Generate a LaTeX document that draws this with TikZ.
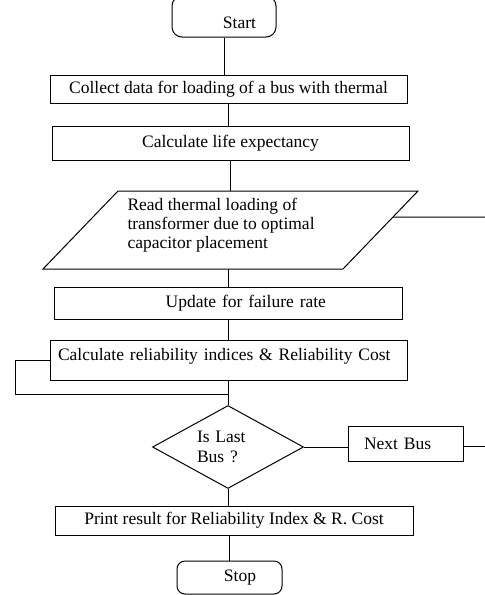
\documentclass[tikz,border=0pt]{standalone}
\usepackage{fontspec}
\setmainfont{Liberation Serif}
\usetikzlibrary{shapes.geometric,positioning,calc}

\begin{document}
\begin{tikzpicture}[x=1pt, y=-1pt, line width=1pt,
  txt/.style={inner sep=0pt, font=\fontsize{17.5}{19}\selectfont},
  box/.style={txt, draw, rectangle},
  term/.style={box, rounded corners=8pt},
  decide/.style={txt, draw, diamond, aspect=1.82, align=left, font=\fontsize{17.5}{20}\selectfont}
]
\useasboundingbox (0,0) rectangle (485,595);

\node[term, rounded corners=10pt, minimum width=104pt, minimum height=41pt, text height=32pt, text depth=9pt,
      text width=64pt, inner xsep=20pt, align=right] (start) at (224,16.5) {Start};
\node[box, minimum width=357pt, minimum height=28pt] (collect) at (228.5,89) {Collect data for loading of a bus with thermal};
\node[box, minimum width=357pt, minimum height=34pt] (life) at (230.5,143) {Calculate life expectancy};

% input / output block
\coordinate (rtl) at (118,191);
\coordinate (rtr) at (418,191);
\coordinate (rbr) at (343,269);
\coordinate (rbl) at (43,269);
\draw (rtl) -- (rtr) -- (rbr) -- (rbl) -- cycle;
\node[txt, align=left, anchor=west] (read) at (127,225) {Read thermal loading of\\transformer due to optimal\\capacitor placement};

\node[box, minimum width=348pt, minimum height=32pt, text width=196pt, inner xsep=76pt, align=right] (update) at (228,303) {Update for failure rate};
\node[box, minimum width=357pt, text width=341pt, inner xsep=8pt, align=left,
      text height=20pt, text depth=20pt] (rel) at (228.5,360) {Calculate reliability indices \& Reliability Cost};
\node[decide, minimum width=151pt, minimum height=83pt, text width=62pt] (last) at (228,447) {Is Last\\Bus ?};
\node[box, minimum width=115pt, minimum height=35pt, text width=83pt, inner xsep=16pt, align=left] (next) at (405.5,443.5) {Next Bus};
\node[box, minimum width=358pt, minimum height=29pt] (print) at (234,520.5) {Print result for Reliability Index \& R. Cost};
\node[term, minimum width=105pt, minimum height=33pt, text width=53pt, inner xsep=26pt, align=right] (stop) at (229.5,577.5) {Stop};

\coordinate (join) at (228,394);
\coordinate (loop) at (15,394);
\coordinate (readout) at (485,217);
\coordinate (nextout) at (485,446);

\draw (start.south) -- (start.south |- collect.north);
\draw (collect.south) -- (collect.south |- life.north);
\draw (life.south) -- (life.south |- rtl);
\draw (update.north |- rbl) -- (update.north);
\draw (update.south) -- (update.south |- rel.north);
\draw (last.north |- rel.south) -- (last.north);
\draw (rel.west) -| (loop) -- (join);
\draw ($(rtr)!1/3!(rbr)$) -- (readout);
\draw (last.east) -- (last.east -| next.west);
\draw (next.east |- nextout) -- (nextout);
\draw (last.south) -- (last.south |- print.north);
\draw (stop.north |- print.south) -- (stop.north);
\end{tikzpicture}
\end{document}
